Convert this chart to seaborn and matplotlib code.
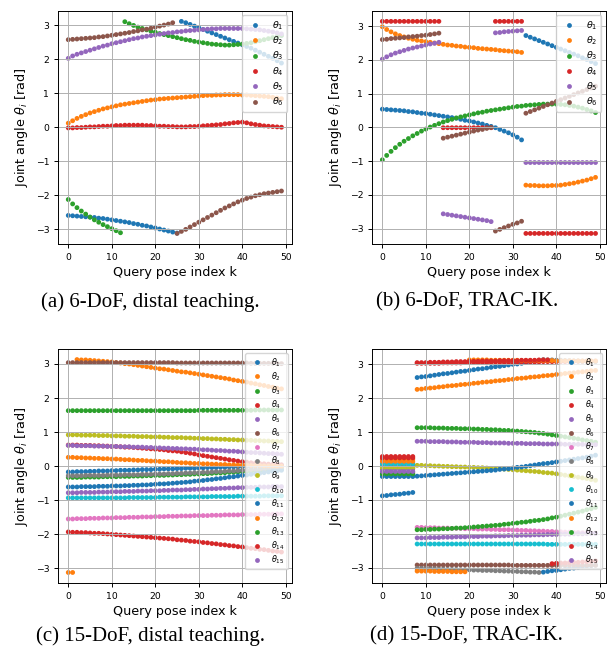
import numpy as np
import pandas as pd
import seaborn as sns
import matplotlib
matplotlib.use("Agg")
import matplotlib.pyplot as plt

# query pose index
k = np.arange(50)

# (a) 6-DoF, distal teaching
a_t1 = [-2.60, -2.61, -2.62, -2.63, -2.64, -2.65, -2.66, -2.68, -2.69, -2.71,
        -2.73, -2.75, -2.77, -2.79, -2.81, -2.84, -2.86, -2.89, -2.91, -2.94,
        -2.97, -3.00, -3.03, -3.06, -3.09, -3.12, 3.12, 3.08, 3.03, 2.98,
        2.93, 2.88, 2.83, 2.78, 2.73, 2.68, 2.63, 2.58, 2.53, 2.48,
        2.43, 2.38, 2.33, 2.27, 2.21, 2.15, 2.09, 2.03, 1.96, 1.89]
a_t2 = [0.12, 0.19, 0.26, 0.32, 0.37, 0.42, 0.46, 0.50, 0.54, 0.57,
        0.60, 0.63, 0.66, 0.68, 0.70, 0.72, 0.74, 0.76, 0.78, 0.80,
        0.81, 0.83, 0.84, 0.85, 0.86, 0.87, 0.88, 0.89, 0.90, 0.91,
        0.92, 0.93, 0.94, 0.94, 0.95, 0.95, 0.96, 0.96, 0.96, 0.96,
        0.95, 0.95, 0.94, 0.93, 0.92, 0.91, 0.90, 0.88, 0.86, 0.84]
a_t3 = [-2.13, -2.26, -2.37, -2.47, -2.56, -2.65, -2.73, -2.80, -2.87, -2.93,
        -2.99, -3.05, -3.11, 3.11, 3.05, 3.00, 2.95, 2.91, 2.87, 2.83,
        2.80, 2.76, 2.73, 2.70, 2.67, 2.64, 2.61, 2.58, 2.56, 2.53,
        2.51, 2.49, 2.47, 2.45, 2.44, 2.43, 2.42, 2.42, 2.43, 2.44,
        2.45, 2.47, 2.49, 2.52, 2.55, 2.58, 2.61, 2.64, 2.67, 2.70]
a_t4 = [-0.02, -0.02, -0.01, -0.01, 0.00, 0.01, 0.01, 0.02, 0.03, 0.03,
        0.04, 0.05, 0.05, 0.06, 0.06, 0.06, 0.06, 0.06, 0.05, 0.05,
        0.04, 0.03, 0.03, 0.02, 0.02, 0.01, 0.01, 0.01, 0.02, 0.02,
        0.03, 0.04, 0.05, 0.06, 0.07, 0.08, 0.10, 0.11, 0.13, 0.14,
        0.15, 0.13, 0.10, 0.08, 0.06, 0.04, 0.03, 0.02, 0.01, 0.00]
a_t5 = [2.03, 2.10, 2.15, 2.19, 2.23, 2.27, 2.31, 2.35, 2.39, 2.42,
        2.46, 2.49, 2.52, 2.55, 2.58, 2.61, 2.63, 2.66, 2.68, 2.70,
        2.72, 2.74, 2.76, 2.78, 2.79, 2.81, 2.82, 2.84, 2.85, 2.86,
        2.87, 2.88, 2.89, 2.90, 2.90, 2.91, 2.91, 2.91, 2.91, 2.91,
        2.91, 2.90, 2.89, 2.88, 2.87, 2.85, 2.83, 2.81, 2.78, 2.75]
a_t6 = [2.58, 2.59, 2.60, 2.61, 2.62, 2.63, 2.64, 2.66, 2.67, 2.69,
        2.71, 2.73, 2.75, 2.77, 2.79, 2.82, 2.84, 2.87, 2.89, 2.92,
        2.95, 2.98, 3.01, 3.04, 3.08, -3.13, -3.07, -3.01, -2.94, -2.87,
        -2.80, -2.73, -2.66, -2.59, -2.52, -2.45, -2.38, -2.32, -2.26, -2.20,
        -2.15, -2.10, -2.06, -2.02, -1.99, -1.96, -1.94, -1.92, -1.90, -1.88]

# (b) 6-DoF, TRAC-IK
b_t1 = [0.54, 0.53, 0.52, 0.51, 0.50, 0.49, 0.47, 0.46, 0.44, 0.42,
        0.41, 0.39, 0.37, 0.35, 0.33, 0.31, 0.29, 0.27, 0.24, 0.21,
        0.19, 0.16, 0.13, 0.10, 0.06, 0.03, -0.01, -0.06, -0.11, -0.16,
        -0.22, -0.29, -0.37, 2.72, 2.67, 2.62, 2.57, 2.52, 2.47, 2.42,
        2.37, 2.32, 2.27, 2.22, 2.17, 2.12, 2.06, 2.01, 1.95, 1.89]
b_t2 = [2.98, 2.90, 2.83, 2.77, 2.72, 2.68, 2.64, 2.61, 2.58, 2.56,
        2.54, 2.52, 2.50, 2.48, 2.46, 2.44, 2.43, 2.41, 2.40, 2.38,
        2.37, 2.36, 2.34, 2.33, 2.32, 2.31, 2.30, 2.28, 2.27, 2.26,
        2.25, 2.24, 2.22, -1.71, -1.72, -1.72, -1.73, -1.73, -1.73, -1.72,
        -1.72, -1.71, -1.69, -1.67, -1.65, -1.62, -1.59, -1.56, -1.52, -1.48]
b_t3 = [-0.96, -0.83, -0.71, -0.60, -0.50, -0.41, -0.33, -0.25, -0.18, -0.11,
        -0.05, 0.01, 0.06, 0.11, 0.16, 0.20, 0.24, 0.28, 0.31, 0.34,
        0.37, 0.40, 0.43, 0.45, 0.48, 0.50, 0.52, 0.54, 0.56, 0.58,
        0.60, 0.62, 0.63, 0.65, 0.66, 0.67, 0.68, 0.69, 0.69, 0.69,
        0.69, 0.68, 0.67, 0.65, 0.63, 0.60, 0.57, 0.53, 0.49, 0.44]
b_t4 = [3.14, 3.14, 3.14, 3.14, 3.14, 3.14, 3.14, 3.14, 3.14, 3.14,
        3.14, 3.14, 3.14, 3.14, -0.01, -0.01, -0.01, -0.01, -0.01, -0.01,
        -0.01, -0.01, -0.01, -0.01, -0.01, -0.01, 3.14, 3.14, 3.14, 3.14,
        3.14, 3.14, 3.14, -3.14, -3.14, -3.14, -3.14, -3.14, -3.14, -3.14,
        -3.14, -3.14, -3.14, -3.14, -3.14, -3.14, -3.14, -3.14, -3.14, -3.14]
b_t5 = [2.02, 2.09, 2.15, 2.20, 2.24, 2.28, 2.32, 2.35, 2.38, 2.41,
        2.44, 2.47, 2.49, 2.52, -2.56, -2.58, -2.60, -2.62, -2.64, -2.66,
        -2.68, -2.70, -2.72, -2.74, -2.76, -2.79, 2.80, 2.81, 2.83, 2.84,
        2.85, 2.86, 2.87, -1.04, -1.04, -1.04, -1.04, -1.04, -1.04, -1.04,
        -1.04, -1.04, -1.04, -1.04, -1.04, -1.04, -1.04, -1.04, -1.04, -1.04]
b_t6 = [2.60, 2.61, 2.63, 2.64, 2.65, 2.66, 2.68, 2.69, 2.70, 2.72,
        2.73, 2.75, 2.77, 2.79, -0.32, -0.29, -0.26, -0.23, -0.20, -0.17,
        -0.14, -0.11, -0.08, -0.06, -0.03, 0.00, -3.07, -3.02, -2.97, -2.92,
        -2.87, -2.83, -2.78, 0.42, 0.47, 0.52, 0.57, 0.62, 0.67, 0.72,
        0.77, 0.82, 0.87, 0.92, 0.97, 1.02, 1.07, 1.12, 1.17, 1.22]

# (c) 15-DoF, distal teaching
c_t1 = [-0.17, -0.17, -0.16, -0.16, -0.16, -0.15, -0.15, -0.14, -0.14, -0.14,
        -0.13, -0.13, -0.12, -0.12, -0.12, -0.11, -0.11, -0.10, -0.10, -0.10,
        -0.09, -0.09, -0.08, -0.08, -0.08, -0.07, -0.07, -0.06, -0.06, -0.06,
        -0.05, -0.05, -0.04, -0.04, -0.04, -0.03, -0.03, -0.02, -0.02, -0.02,
        -0.01, -0.01, 0.00, 0.00, 0.00, 0.01, 0.01, 0.02, 0.02, 0.03]
c_t2 = [-3.12, -3.12, 3.13, 3.12, 3.12, 3.11, 3.10, 3.09, 3.08, 3.07,
        3.06, 3.04, 3.03, 3.01, 3.00, 2.98, 2.96, 2.94, 2.92, 2.90,
        2.88, 2.86, 2.85, 2.83, 2.81, 2.79, 2.77, 2.76, 2.74, 2.72,
        2.70, 2.68, 2.66, 2.64, 2.62, 2.60, 2.58, 2.56, 2.53, 2.51,
        2.49, 2.47, 2.44, 2.42, 2.39, 2.37, 2.34, 2.32, 2.29, 2.27]
c_t3 = [-0.33, -0.33, -0.33, -0.33, -0.32, -0.32, -0.32, -0.32, -0.31, -0.31,
        -0.31, -0.31, -0.30, -0.30, -0.30, -0.29, -0.29, -0.29, -0.28, -0.28,
        -0.27, -0.27, -0.27, -0.26, -0.26, -0.25, -0.25, -0.24, -0.24, -0.23,
        -0.23, -0.22, -0.22, -0.21, -0.20, -0.20, -0.19, -0.18, -0.18, -0.17,
        -0.16, -0.16, -0.15, -0.14, -0.14, -0.13, -0.12, -0.12, -0.11, -0.10]
c_t4 = [0.62, 0.62, 0.62, 0.61, 0.61, 0.61, 0.60, 0.60, 0.59, 0.59,
        0.58, 0.58, 0.57, 0.56, 0.56, 0.55, 0.54, 0.53, 0.52, 0.51,
        0.50, 0.49, 0.48, 0.46, 0.45, 0.44, 0.42, 0.40, 0.38, 0.36,
        0.33, 0.31, 0.29, 0.27, 0.25, 0.23, 0.21, 0.19, 0.17, 0.15,
        0.13, 0.12, 0.10, 0.09, 0.08, 0.07, 0.06, 0.05, 0.05, 0.04]
c_t5 = [0.61, 0.61, 0.60, 0.60, 0.60, 0.60, 0.59, 0.59, 0.59, 0.58,
        0.58, 0.58, 0.57, 0.57, 0.57, 0.56, 0.56, 0.56, 0.55, 0.55,
        0.54, 0.54, 0.53, 0.53, 0.52, 0.52, 0.51, 0.51, 0.50, 0.50,
        0.49, 0.48, 0.48, 0.47, 0.46, 0.46, 0.45, 0.44, 0.44, 0.43,
        0.42, 0.41, 0.40, 0.40, 0.39, 0.38, 0.37, 0.37, 0.36, 0.35]
c_t6 = [3.04, 3.04, 3.04, 3.04, 3.04, 3.04, 3.04, 3.04, 3.04, 3.04,
        3.04, 3.04, 3.04, 3.04, 3.04, 3.04, 3.04, 3.04, 3.04, 3.04,
        3.04, 3.04, 3.04, 3.04, 3.04, 3.03, 3.03, 3.03, 3.03, 3.03,
        3.03, 3.03, 3.03, 3.03, 3.03, 3.03, 3.03, 3.03, 3.03, 3.03,
        3.03, 3.03, 3.02, 3.02, 3.02, 3.02, 3.02, 3.02, 3.01, 3.01]
c_t7 = [-1.55, -1.55, -1.54, -1.54, -1.54, -1.53, -1.53, -1.53, -1.52, -1.52,
        -1.52, -1.51, -1.51, -1.51, -1.50, -1.50, -1.50, -1.49, -1.49, -1.49,
        -1.48, -1.48, -1.48, -1.47, -1.47, -1.47, -1.46, -1.46, -1.46, -1.45,
        -1.45, -1.45, -1.45, -1.44, -1.44, -1.44, -1.43, -1.43, -1.43, -1.43,
        -1.42, -1.42, -1.42, -1.42, -1.41, -1.41, -1.41, -1.41, -1.40, -1.40]
c_t8 = [-0.28, -0.28, -0.28, -0.28, -0.27, -0.27, -0.27, -0.27, -0.27, -0.26,
        -0.26, -0.26, -0.26, -0.25, -0.25, -0.25, -0.25, -0.24, -0.24, -0.24,
        -0.23, -0.23, -0.23, -0.22, -0.22, -0.21, -0.21, -0.20, -0.20, -0.19,
        -0.19, -0.18, -0.18, -0.17, -0.16, -0.16, -0.15, -0.14, -0.14, -0.13,
        -0.12, -0.11, -0.10, -0.10, -0.09, -0.08, -0.07, -0.06, -0.05, -0.04]
c_t9 = [0.92, 0.92, 0.92, 0.91, 0.91, 0.91, 0.91, 0.90, 0.90, 0.90,
        0.89, 0.89, 0.89, 0.88, 0.88, 0.88, 0.87, 0.87, 0.87, 0.86,
        0.86, 0.86, 0.85, 0.85, 0.84, 0.84, 0.84, 0.83, 0.83, 0.82,
        0.82, 0.81, 0.81, 0.80, 0.80, 0.79, 0.79, 0.78, 0.78, 0.77,
        0.77, 0.76, 0.76, 0.75, 0.75, 0.74, 0.74, 0.73, 0.73, 0.72]
c_t10 = [-0.93, -0.93, -0.93, -0.93, -0.93, -0.93, -0.93, -0.93, -0.93, -0.93,
         -0.93, -0.93, -0.93, -0.93, -0.92, -0.92, -0.92, -0.92, -0.92, -0.92,
         -0.92, -0.91, -0.91, -0.91, -0.91, -0.91, -0.91, -0.90, -0.90, -0.90,
         -0.90, -0.90, -0.90, -0.89, -0.89, -0.89, -0.89, -0.89, -0.89, -0.88,
         -0.88, -0.88, -0.88, -0.88, -0.88, -0.87, -0.87, -0.87, -0.87, -0.87]
c_t11 = [-0.61, -0.61, -0.61, -0.60, -0.60, -0.60, -0.60, -0.59, -0.59, -0.59,
         -0.58, -0.58, -0.58, -0.57, -0.57, -0.56, -0.56, -0.55, -0.55, -0.54,
         -0.53, -0.52, -0.52, -0.51, -0.50, -0.49, -0.48, -0.47, -0.46, -0.44,
         -0.43, -0.42, -0.40, -0.39, -0.37, -0.36, -0.34, -0.32, -0.31, -0.29,
         -0.27, -0.26, -0.24, -0.22, -0.21, -0.19, -0.17, -0.15, -0.14, -0.12]
c_t12 = [0.26, 0.26, 0.25, 0.25, 0.24, 0.24, 0.23, 0.23, 0.22, 0.22,
         0.21, 0.21, 0.20, 0.19, 0.19, 0.18, 0.17, 0.17, 0.16, 0.15,
         0.15, 0.14, 0.13, 0.13, 0.12, 0.11, 0.10, 0.10, 0.09, 0.08,
         0.08, 0.07, 0.07, 0.06, 0.06, 0.05, 0.05, 0.04, 0.04, 0.03,
         0.03, 0.03, 0.02, 0.02, 0.02, 0.01, 0.01, 0.01, 0.00, 0.00]
c_t13 = [1.63, 1.63, 1.63, 1.63, 1.63, 1.63, 1.63, 1.63, 1.63, 1.63,
         1.63, 1.63, 1.63, 1.63, 1.63, 1.63, 1.63, 1.63, 1.63, 1.63,
         1.63, 1.63, 1.63, 1.63, 1.63, 1.63, 1.63, 1.63, 1.63, 1.63,
         1.64, 1.64, 1.64, 1.64, 1.64, 1.64, 1.64, 1.64, 1.64, 1.64,
         1.64, 1.64, 1.64, 1.65, 1.65, 1.65, 1.65, 1.65, 1.65, 1.65]
c_t14 = [-1.93, -1.94, -1.94, -1.95, -1.95, -1.96, -1.97, -1.97, -1.98, -1.99,
         -2.00, -2.01, -2.02, -2.03, -2.04, -2.05, -2.06, -2.07, -2.08, -2.09,
         -2.10, -2.11, -2.12, -2.13, -2.14, -2.16, -2.17, -2.18, -2.20, -2.21,
         -2.22, -2.24, -2.25, -2.27, -2.28, -2.30, -2.31, -2.33, -2.34, -2.36,
         -2.37, -2.39, -2.41, -2.42, -2.44, -2.45, -2.47, -2.49, -2.50, -2.52]
c_t15 = [-0.78, -0.78, -0.78, -0.77, -0.77, -0.77, -0.77, -0.76, -0.76, -0.76,
         -0.75, -0.75, -0.75, -0.74, -0.74, -0.74, -0.73, -0.73, -0.73, -0.72,
         -0.72, -0.72, -0.71, -0.71, -0.70, -0.70, -0.70, -0.69, -0.69, -0.68,
         -0.68, -0.67, -0.67, -0.66, -0.66, -0.65, -0.65, -0.64, -0.64, -0.63,
         -0.63, -0.62, -0.62, -0.62, -0.61, -0.61, -0.61, -0.60, -0.60, -0.60]

# (d) 15-DoF, TRAC-IK
d_t1 = [-0.88, -0.87, -0.85, -0.84, -0.83, -0.81, -0.80, -0.78, 2.61, 2.63,
        2.64, 2.66, 2.68, 2.70, 2.72, 2.73, 2.75, 2.77, 2.79, 2.80,
        2.82, 2.84, 2.86, 2.87, 2.89, 2.91, 2.93, 2.94, 2.96, 2.98,
        3.00, 3.01, 3.03, 3.05, 3.07, 3.08, 3.10, -3.13, -3.11, -3.09,
        -3.08, -3.06, -3.04, -3.02, -3.01, -2.99, -2.97, -2.95, -2.94, -2.92]
d_t2 = [0.20, 0.20, 0.20, 0.20, 0.20, 0.20, 0.20, 0.20, 2.26, 2.27,
        2.29, 2.30, 2.31, 2.33, 2.34, 2.36, 2.37, 2.38, 2.40, 2.41,
        2.42, 2.44, 2.45, 2.47, 2.48, 2.49, 2.51, 2.52, 2.53, 2.55,
        2.56, 2.58, 2.59, 2.60, 2.62, 2.63, 2.64, 2.66, 2.67, 2.68,
        2.70, 2.71, 2.73, 2.74, 2.75, 2.77, 2.78, 2.79, 2.81, 2.82]
d_t3 = [-0.26, -0.26, -0.26, -0.26, -0.26, -0.26, -0.26, -0.26, 1.13, 1.13,
        1.13, 1.13, 1.12, 1.12, 1.12, 1.11, 1.11, 1.11, 1.10, 1.10,
        1.10, 1.09, 1.09, 1.08, 1.08, 1.07, 1.07, 1.06, 1.05, 1.05,
        1.04, 1.03, 1.02, 1.01, 1.00, 0.99, 0.97, 0.96, 0.94, 0.92,
        0.90, 0.88, 0.86, 0.84, 0.82, 0.80, 0.77, 0.75, 0.73, 0.70]
d_t4 = [0.28, 0.28, 0.28, 0.28, 0.28, 0.28, 0.28, 0.28, 3.03, 3.03,
        3.03, 3.03, 3.03, 3.03, 3.04, 3.04, 3.04, 3.04, 3.04, 3.05,
        3.05, 3.05, 3.05, 3.05, 3.05, 3.06, 3.06, 3.06, 3.06, 3.06,
        3.06, 3.07, 3.07, 3.07, 3.07, 3.07, 3.07, 3.08, 3.08, 3.08,
        3.08, 3.08, 3.08, 3.08, 3.09, 3.09, 3.09, 3.09, 3.09, 3.09]
d_t5 = [-0.19, -0.19, -0.19, -0.19, -0.19, -0.19, -0.19, -0.19, 0.73, 0.73,
        0.73, 0.72, 0.72, 0.72, 0.72, 0.71, 0.71, 0.71, 0.70, 0.70,
        0.70, 0.70, 0.69, 0.69, 0.69, 0.68, 0.68, 0.68, 0.68, 0.67,
        0.67, 0.67, 0.67, 0.66, 0.66, 0.66, 0.66, 0.65, 0.65, 0.65,
        0.65, 0.65, 0.64, 0.64, 0.64, 0.64, 0.64, 0.63, 0.63, 0.63]
d_t6 = [-0.02, -0.02, -0.02, -0.02, -0.02, -0.02, -0.02, -0.02, -2.92, -2.92,
        -2.92, -2.92, -2.92, -2.92, -2.92, -2.92, -2.92, -2.92, -2.92, -2.92,
        -2.92, -2.92, -2.92, -2.92, -2.92, -2.92, -2.92, -2.92, -2.92, -2.92,
        -2.93, -2.93, -2.93, -2.93, -2.93, -2.93, -2.93, -2.93, -2.93, -2.93,
        -2.93, -2.93, -2.93, -2.93, -2.93, -2.93, -2.93, -2.93, -2.93, -2.93]
d_t7 = [0.10, 0.10, 0.10, 0.10, 0.10, 0.10, 0.10, 0.10, -1.81, -1.81,
        -1.82, -1.82, -1.82, -1.83, -1.83, -1.83, -1.84, -1.84, -1.84, -1.85,
        -1.85, -1.85, -1.86, -1.86, -1.86, -1.87, -1.87, -1.88, -1.88, -1.88,
        -1.89, -1.89, -1.90, -1.90, -1.91, -1.91, -1.92, -1.92, -1.93, -1.93,
        -1.94, -1.94, -1.95, -1.95, -1.96, -1.96, -1.97, -1.97, -1.98, -1.98]
d_t8 = [-0.08, -0.08, -0.08, -0.08, -0.08, -0.08, -0.08, -0.08, -3.02, -3.02,
        -3.03, -3.03, -3.03, -3.04, -3.04, -3.05, -3.05, -3.05, -3.06, -3.06,
        -3.06, -3.07, -3.07, -3.08, -3.08, -3.08, -3.09, -3.09, -3.10, -3.10,
        -3.11, -3.11, -3.12, -3.12, -3.13, -3.13, -3.14, 3.14, 3.13, 3.13,
        3.12, 3.12, 3.11, 3.11, 3.10, 3.10, 3.09, 3.09, 3.08, 3.08]
d_t9 = [-0.05, -0.05, -0.05, -0.05, -0.05, -0.05, -0.05, -0.05, 0.02, 0.02,
        0.01, 0.01, 0.00, 0.00, -0.01, -0.01, -0.02, -0.02, -0.03, -0.03,
        -0.04, -0.04, -0.05, -0.05, -0.06, -0.07, -0.07, -0.08, -0.09, -0.10,
        -0.11, -0.12, -0.13, -0.14, -0.15, -0.16, -0.17, -0.19, -0.20, -0.21,
        -0.23, -0.25, -0.27, -0.29, -0.31, -0.33, -0.35, -0.37, -0.40, -0.42]
d_t10 = [0.06, 0.06, 0.06, 0.06, 0.06, 0.06, 0.06, 0.06, -2.30, -2.30,
         -2.30, -2.30, -2.30, -2.30, -2.30, -2.30, -2.30, -2.30, -2.30, -2.30,
         -2.30, -2.30, -2.30, -2.30, -2.30, -2.30, -2.30, -2.30, -2.30, -2.30,
         -2.30, -2.30, -2.30, -2.30, -2.30, -2.30, -2.30, -2.30, -2.31, -2.31,
         -2.31, -2.31, -2.31, -2.31, -2.31, -2.31, -2.31, -2.31, -2.31, -2.31]
d_t11 = [-0.31, -0.31, -0.31, -0.31, -0.31, -0.31, -0.31, -0.31, -0.30, -0.29,
         -0.28, -0.27, -0.26, -0.25, -0.24, -0.23, -0.22, -0.21, -0.20, -0.19,
         -0.18, -0.17, -0.16, -0.15, -0.14, -0.13, -0.12, -0.10, -0.09, -0.08,
         -0.06, -0.04, -0.03, -0.01, 0.01, 0.03, 0.05, 0.07, 0.08, 0.10,
         0.12, 0.14, 0.16, 0.18, 0.20, 0.22, 0.24, 0.26, 0.29, 0.32]
d_t12 = [0.14, 0.14, 0.14, 0.14, 0.14, 0.14, 0.14, 0.14, -3.10, -3.10,
         -3.10, -3.10, -3.11, -3.11, -3.11, -3.11, -3.12, -3.12, -3.12, -3.12,
         3.13, 3.13, 3.13, 3.13, 3.13, 3.12, 3.12, 3.12, 3.12, 3.12,
         3.12, 3.12, 3.11, 3.11, 3.11, 3.11, 3.11, 3.11, 3.11, 3.11,
         3.10, 3.10, 3.10, 3.10, 3.10, 3.10, 3.10, 3.10, 3.10, 3.10]
d_t13 = [-0.23, -0.23, -0.23, -0.23, -0.23, -0.23, -0.23, -0.23, -1.88, -1.88,
         -1.87, -1.87, -1.86, -1.86, -1.85, -1.85, -1.84, -1.83, -1.83, -1.82,
         -1.81, -1.80, -1.79, -1.78, -1.77, -1.76, -1.75, -1.74, -1.72, -1.71,
         -1.69, -1.68, -1.66, -1.65, -1.63, -1.61, -1.60, -1.58, -1.56, -1.53,
         -1.51, -1.48, -1.45, -1.42, -1.39, -1.36, -1.33, -1.29, -1.26, -1.22]
d_t14 = [0.24, 0.24, 0.24, 0.24, 0.24, 0.24, 0.24, 0.24, 3.05, 3.05,
         3.05, 3.06, 3.06, 3.06, 3.07, 3.07, 3.07, 3.08, 3.08, 3.08,
         3.09, 3.09, 3.09, 3.10, 3.10, 3.10, 3.10, 3.11, 3.11, 3.11,
         3.11, 3.11, 3.12, 3.12, 3.12, 3.12, 3.13, 3.13, 3.13, -2.88,
         -2.87, -2.86, -2.86, -2.85, -2.84, -2.84, -2.83, -2.82, -2.81, -2.80]
d_t15 = [-0.16, -0.16, -0.16, -0.16, -0.16, -0.16, -0.16, -0.16, -2.12, -2.12,
         -2.12, -2.11, -2.11, -2.11, -2.10, -2.10, -2.10, -2.09, -2.09, -2.09,
         -2.08, -2.08, -2.08, -2.07, -2.07, -2.07, -2.06, -2.06, -2.06, -2.05,
         -2.05, -2.05, -2.04, -2.04, -2.04, -2.03, -2.03, -2.03, -2.02, -2.02,
         -2.02, -2.01, -2.01, -2.01, -2.00, -2.00, -2.00, -1.99, -1.99, -1.99]

panel_a = [a_t1, a_t2, a_t3, a_t4, a_t5, a_t6]
panel_b = [b_t1, b_t2, b_t3, b_t4, b_t5, b_t6]
panel_c = [c_t1, c_t2, c_t3, c_t4, c_t5, c_t6, c_t7, c_t8, c_t9, c_t10,
           c_t11, c_t12, c_t13, c_t14, c_t15]
panel_d = [d_t1, d_t2, d_t3, d_t4, d_t5, d_t6, d_t7, d_t8, d_t9, d_t10,
           d_t11, d_t12, d_t13, d_t14, d_t15]

captions = ["(a) 6-DoF, distal teaching.", "(b) 6-DoF, TRAC-IK.",
            "(c) 15-DoF, distal teaching.", "(d) 15-DoF, TRAC-IK."]

plt.rcParams.update({
    "font.family": "DejaVu Sans",
    "xtick.labelsize": 6.7,
    "ytick.labelsize": 6.7,
    "axes.labelsize": 9.2,
    "axes.linewidth": 0.7,
    "xtick.major.width": 0.7,
    "ytick.major.width": 0.7,
    "xtick.major.size": 2.6,
    "ytick.major.size": 2.6,
    "grid.linewidth": 0.7,
    "grid.color": "#b0b0b0",
})


def draw_panel(ax, series, legend_size, spacing):
    n = len(series)
    labels = [f"$\\theta_{{{i + 1}}}$" for i in range(n)]
    df = pd.DataFrame({
        "k": np.tile(k, n),
        "angle": np.concatenate([np.asarray(s) for s in series]),
        "joint": np.repeat(labels, len(k)),
    })
    sns.scatterplot(data=df, x="k", y="angle", hue="joint", hue_order=labels,
                    palette=sns.color_palette("tab10", n), s=12, linewidth=0,
                    ax=ax)
    sns.move_legend(ax, "upper right", title=None, fontsize=legend_size,
                    frameon=True, labelspacing=spacing)
    ax.grid(True)
    ax.set_xticks([0, 10, 20, 30, 40, 50])
    ax.set_xlabel("Query pose index k", labelpad=3)
    ax.set_ylabel(r"Joint angle $\theta_i$ [rad]")


fig = plt.figure(figsize=(6.11, 6.56), dpi=100)
positions = [
    [0.0943, 0.628, 0.3838, 0.3556],
    [0.6083, 0.628, 0.3838, 0.3556],
    [0.0943, 0.1111, 0.3838, 0.3570],
    [0.6083, 0.1111, 0.3838, 0.3570],
]
panels = [panel_a, panel_b, panel_c, panel_d]
legend_sizes = [6.8, 6.8, 5.8, 5.8]
spacings = [0.3, 0.3, 0.2, 0.2]
for pos, series, lsize, sp in zip(positions, panels, legend_sizes, spacings):
    ax = fig.add_axes(pos)
    draw_panel(ax, series, lsize, sp)

cap_xy = [(0.2455, 0.540), (0.764, 0.540), (0.2455, 0.030), (0.764, 0.030)]
for (x, y), text in zip(cap_xy, captions):
    fig.text(x, y, text, ha="center", va="center",
             family="Liberation Serif", fontsize=15)

fig.savefig("out.png", dpi=100)
